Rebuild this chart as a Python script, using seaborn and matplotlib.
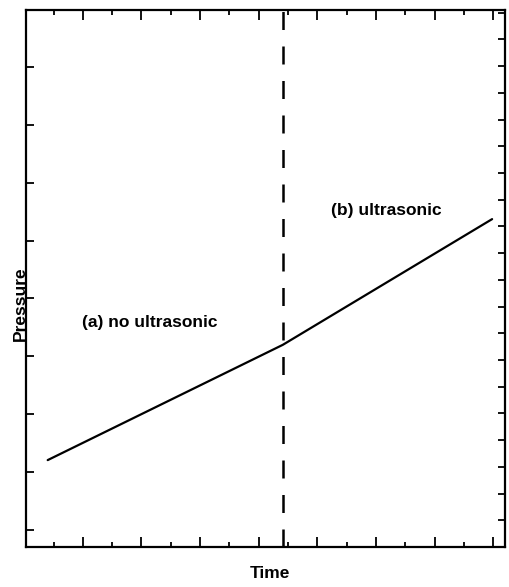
import matplotlib
matplotlib.use("Agg")
import matplotlib.pyplot as plt
import seaborn as sns
import pandas as pd
from matplotlib.ticker import MultipleLocator

# Pressure trace: before and after switching the ultrasonic source on
time = [0.40, 4.41, 7.98]
pressure = [1.21, 3.20, 5.37]
switch_time = 4.41

label_a = "(a) no ultrasonic"
label_b = "(b) ultrasonic"
x_label = "Time"
y_label = "Pressure"

sns.set_theme(style="ticks", rc={"text.color": "black",
                                 "xtick.color": "black",
                                 "ytick.color": "black",
                                 "axes.edgecolor": "black"})
plt.rcParams["font.family"] = ["Liberation Sans", "DejaVu Sans"]

df = pd.DataFrame({"Time": time, "Pressure": pressure})

fig = plt.figure(figsize=(5.10, 5.87), dpi=100)
W, H = 510, 587
ax = fig.add_axes([26 / W, (H - 547) / H, (505 - 26) / W, (547 - 10) / H])

sns.lineplot(data=df, x="Time", y="Pressure", ax=ax, color="black",
             linewidth=1.6, sort=True)
ax.axvline(switch_time, color="black", linewidth=1.8,
           linestyle=(0, (7.2, 6.6)))

ax.set_xlim(0.03, 8.2)
ax.set_ylim(-0.29, 8.98)

ax.xaxis.set_major_locator(MultipleLocator(1))
ax.xaxis.set_minor_locator(MultipleLocator(0.5))
ax.yaxis.set_major_locator(MultipleLocator(1))
ax.yaxis.set_minor_locator(plt.NullLocator())

ax.tick_params(axis="x", which="major", direction="in", length=7, width=1.3,
               top=True, bottom=True, labelbottom=False, labeltop=False)
ax.tick_params(axis="x", which="minor", direction="in", length=3.8, width=1.3,
               top=True, bottom=True)
ax.tick_params(axis="y", which="major", direction="in", length=5.5, width=1.3,
               left=True, right=False, labelleft=False)

# finer tick set along the right edge
ax2 = ax.twinx()
ax2.set_ylim(0, 20.1)
ax2.yaxis.set_major_locator(MultipleLocator(1))
ax2.tick_params(axis="y", direction="in", length=5, width=1.3,
                labelright=False)
for s in ax2.spines.values():
    s.set_visible(False)

for s in ax.spines.values():
    s.set_linewidth(1.6)
    s.set_color("black")

ax.set_xlabel("")
ax.set_ylabel("")
fig.text(270 / W, 1 - 574 / H, x_label, ha="center", va="center",
         fontsize=12.5, fontweight="bold", color="black")
fig.text(20 / W, 1 - 304 / H, y_label, ha="center", va="center",
         rotation=90, fontsize=12.5, fontweight="bold", color="black")

fig.text(150 / W, 1 - 323 / H, label_a, ha="center", va="center",
         fontsize=12.5, fontweight="bold", color="black")
fig.text(386 / W, 1 - 211 / H, label_b, ha="center", va="center",
         fontsize=12.5, fontweight="bold", color="black")

fig.savefig("out.png", dpi=100)
